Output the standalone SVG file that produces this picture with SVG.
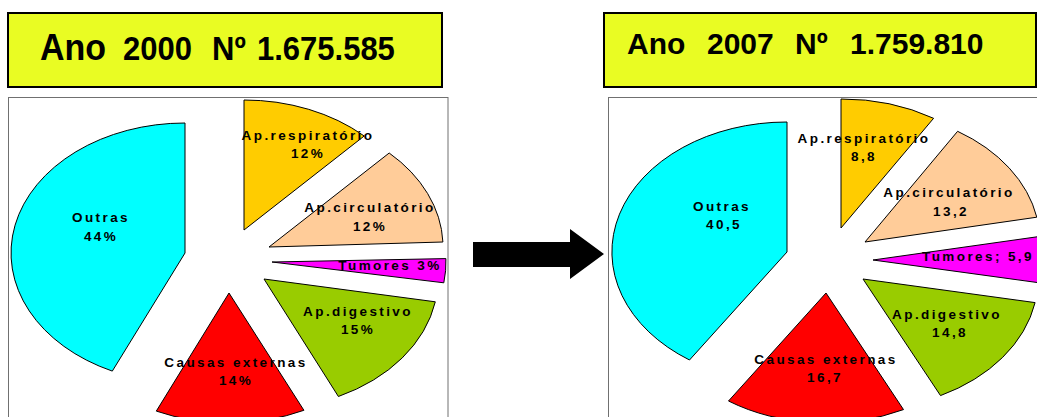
<svg xmlns="http://www.w3.org/2000/svg" width="1037" height="417" viewBox="0 0 1037 417">
<defs>
<style>
.title{fill:#E9FC23;stroke:#000;stroke-width:2}
.tt{font-family:"Liberation Sans",Arial,sans-serif;font-weight:bold;fill:#000}
.frame{fill:#fff;stroke:#707070;stroke-width:1}
.sl{stroke:#000;stroke-width:1;stroke-linejoin:round}
.lb{font-family:"Liberation Sans",Arial,sans-serif;font-weight:bold;font-size:13.5px;letter-spacing:2.4px;text-anchor:middle;fill:#000}
</style>
</defs>
<rect width="1037" height="417" fill="#fff"/>

<g id="title-2000">
<rect class="title" x="8" y="13" width="434" height="74"/>
<text class="tt" transform="translate(0,60) scale(1,1.08)"><tspan x="40" y="0" font-size="34">Ano</tspan><tspan x="123" y="0" font-size="31">2000</tspan><tspan x="212" y="0" font-size="31">Nº</tspan><tspan x="257" y="0" font-size="31">1.675.585</tspan></text>
</g>
<g id="title-2007">
<rect class="title" x="604" y="13" width="432" height="74"/>
<text class="tt" font-size="30" y="54"><tspan x="627">Ano</tspan><tspan x="707">2007</tspan><tspan x="795">Nº</tspan><tspan x="850">1.759.810</tspan></text>
</g>

<g id="frame-2000"><rect class="frame" x="8.5" y="97.5" width="439.5" height="340"/></g>
<g id="frame-2007"><rect class="frame" x="608.5" y="97.5" width="440" height="340"/></g>

<!-- 2000 pie -->
<g id="p2000-respiratorio">
<path class="sl" fill="#FFCC00" d="M244,230 L244,100 A174,130 0 0 1 364.2,136 Z"/>
<text class="lb" x="308" y="140">Ap.respiratório</text>
<text class="lb" x="308" y="158">12%</text>
</g>
<g id="p2000-circulatorio">
<path class="sl" fill="#FFCC99" d="M269,247 L389.2,153 A174,130 0 0 1 442.9,242 Z"/>
<text class="lb" x="370" y="212">Ap.circulatório</text>
<text class="lb" x="370" y="231">12%</text>
</g>
<g id="p2000-tumores">
<path class="sl" fill="#FF00FF" d="M272,262 L445.9,258.6 A174,130 0 0 1 443.8,282.8 Z"/>
<text class="lb" x="390" y="270">Tumores 3%</text>
</g>
<g id="p2000-digestivo">
<path class="sl" fill="#99CC00" d="M264,279 L435.3,301.8 A174,130 0 0 1 338.4,396.5 Z"/>
<text class="lb" x="358" y="316">Ap.digestivo</text>
<text class="lb" x="358" y="334">15%</text>
</g>
<g id="p2000-causas">
<path class="sl" fill="#FF0000" d="M229,293 L303.9,410.3 A174,130 0 0 1 156.3,411.1 Z"/>
<text class="lb" x="236" y="367">Causas externas</text>
<text class="lb" x="236" y="385">14%</text>
</g>
<g id="p2000-outras">
<path class="sl" fill="#00FFFF" d="M185,253 L112.3,371.1 A174,130 0 0 1 185,123 Z"/>
<text class="lb" x="101" y="222">Outras</text>
<text class="lb" x="101" y="241">44%</text>
</g>

<!-- 2007 pie -->
<g id="p2007-respiratorio">
<path class="sl" fill="#FFCC00" d="M841,228 L841,99 A175,130 0 0 1 933.6,118.3 Z"/>
<text class="lb" x="864" y="143">Ap.respiratório</text>
<text class="lb" x="864" y="161">8,8</text>
</g>
<g id="p2007-circulatorio">
<path class="sl" fill="#FFCC99" d="M865,242 L957.6,131.3 A175,130 0 0 1 1036.8,217.2 Z"/>
<text class="lb" x="949" y="197">Ap.circulatório</text>
<text class="lb" x="951" y="216">13,2</text>
</g>
<g id="p2007-tumores">
<path class="sl" fill="#FF00FF" d="M873,260 L1044.9,235.7 A175,130 0 0 1 1045.1,283.6 Z"/>
<text class="lb" x="978" y="261">Tumores; 5,9</text>
</g>
<g id="p2007-digestivo">
<path class="sl" fill="#99CC00" d="M863,279 L1035.1,302.6 A175,130 0 0 1 940.5,395.6 Z"/>
<text class="lb" x="947" y="319">Ap.digestivo</text>
<text class="lb" x="950" y="337">14,8</text>
</g>
<g id="p2007-causas">
<path class="sl" fill="#FF0000" d="M826,293 L903.5,409.6 A175,130 0 0 1 728.5,401 Z"/>
<text class="lb" x="826" y="364">Causas externas</text>
<text class="lb" x="825" y="382">16,7</text>
</g>
<g id="p2007-outras">
<path class="sl" fill="#00FFFF" d="M787,252 L689.5,360 A175,130 0 0 1 787,122 Z"/>
<text class="lb" x="722" y="211">Outras</text>
<text class="lb" x="724" y="229">40,5</text>
</g>

<g id="connectors">
<polygon points="473,242 570,242 570,229 604,254 570,279 570,267 473,267" fill="#000"/>
</g>
</svg>
